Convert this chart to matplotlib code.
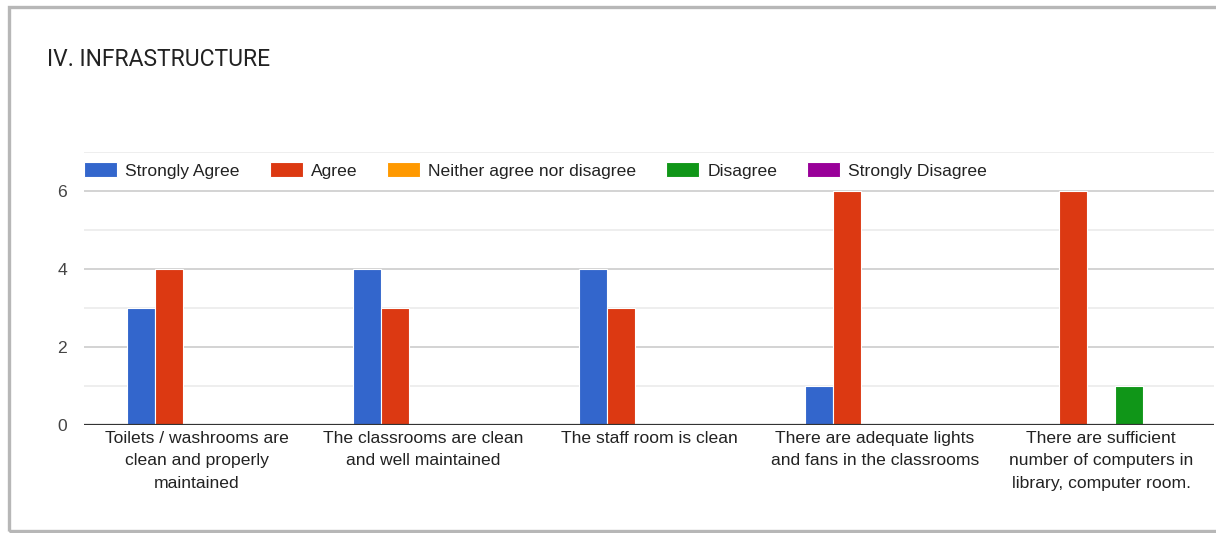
import matplotlib.pyplot as plt
import numpy as np

plt.rcParams['font.family'] = ['Liberation Sans', 'DejaVu Sans']

categories = ['Toilets / washrooms are\nclean and properly\nmaintained',
              'The classrooms are clean\nand well maintained',
              'The staff room is clean',
              'There are adequate lights\nand fans in the classrooms',
              'There are sufficient\nnumber of computers in\nlibrary, computer room.']
series_names = ['Strongly Agree', 'Agree', 'Neither agree nor disagree',
                'Disagree', 'Strongly Disagree']
strongly_agree = [3, 4, 4, 1, 0]
agree = [4, 3, 3, 6, 6]
neither = [0, 0, 0, 0, 0]
disagree = [0, 0, 0, 0, 1]
strongly_disagree = [0, 0, 0, 0, 0]
colors = ['#3366cc', '#dc3912', '#ff9900', '#109618', '#990099']

W, H = 1216, 533
fig = plt.figure(figsize=(W / 100, H / 100), dpi=100)
ax = fig.add_axes([84 / W, 1 - 425 / H, (1214 - 84) / W, (425 - 152) / H])

x = np.arange(len(categories))
bw = 0.124
all_series = [strongly_agree, agree, neither, disagree, strongly_disagree]
for i, (vals, name, c) in enumerate(zip(all_series, series_names, colors)):
    ax.bar(x + (i - 2) * bw, vals, width=bw, color=c, edgecolor='white',
           linewidth=0.8, label=name, zorder=3)

ax.set_xlim(-0.5, len(categories) - 0.5)
ax.set_ylim(0, 7)
ax.set_yticks([0, 2, 4, 6])
for y in [2, 4, 6]:
    ax.axhline(y, color='#cccccc', lw=1.2, zorder=1)
for y in [1, 3, 5, 7]:
    ax.axhline(y, color='#ebebeb', lw=1.2, zorder=1)
ax.axhline(0, color='#333333', lw=1.6, zorder=4)
for s in ax.spines.values():
    s.set_visible(False)
ax.set_xticks(x)
ax.set_xticklabels(categories, fontsize=12.6, color='#222222', linespacing=1.65,
                   va='top')
ax.tick_params(axis='x', length=0, pad=4)
ax.tick_params(axis='y', length=0, pad=12, labelsize=12.6, labelcolor='#444444')

ax.legend(loc='center left', bbox_to_anchor=(-0.006, 0.932), ncol=5, frameon=False,
          fontsize=12.6, handlelength=1.9, handleheight=0.95, handletextpad=0.45,
          columnspacing=1.7, borderaxespad=0, labelcolor='#222222')

fig.text(47 / W, 1 - 60 / H, 'IV. INFRASTRUCTURE', fontsize=16.5, color='#222222',
         va='center', ha='left', family=['Roboto', 'DejaVu Sans'])

rect = plt.Rectangle((9 / W, 2 / H), 1.2, (531 - 7) / H, fill=False,
                     edgecolor='#b7b7b7', linewidth=2.4, transform=fig.transFigure,
                     figure=fig)
fig.patches.append(rect)

fig.savefig('out.png', dpi=100, facecolor='white')
